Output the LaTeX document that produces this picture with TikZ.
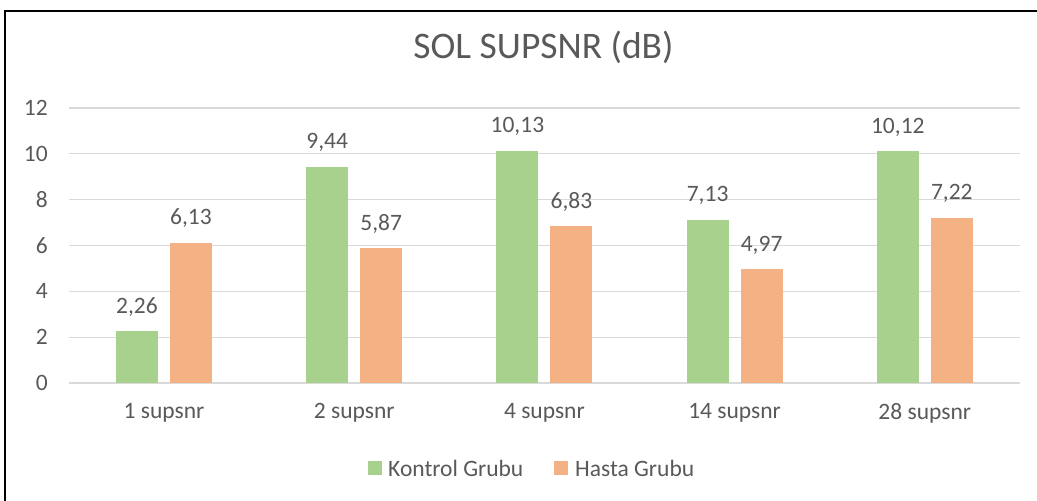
\documentclass[tikz,border=0pt]{standalone}
\usepackage{fontspec}
\setmainfont{Carlito}
\definecolor{txt}{HTML}{595959}
\definecolor{grid}{HTML}{D9D9D9}
\definecolor{kontrol}{HTML}{A9D18E}
\definecolor{hasta}{HTML}{F4B183}
\begin{document}
\begin{tikzpicture}[x=1pt,y=-1pt,
  lbl/.style={text=txt,font=\fontsize{23.5}{27}\selectfont,inner sep=0pt},
  val/.style={lbl,anchor=base},
  gridline/.style={draw=grid,line width=1.3pt},
  kbar/.style={fill=kontrol,draw=none},
  hbar/.style={fill=hasta,draw=none}]
\useasboundingbox (0,0) rectangle (1037,501);
% chart frame (open on the right and bottom)
\draw[line width=2.4pt,black] (5,501) -- (5,11) -- (1037,11);
% title
\node[lbl,font=\fontsize{37.5}{42}\selectfont] (title) at (543.5,47) {SOL SUPSNR (dB)};
% value axis: 1 unit = 22.92 px, zero at y=383
\foreach \v in {0,2,...,12}{
  \pgfmathsetmacro{\yy}{383-22.92*\v}
  \draw[gridline] (69,\yy) -- (1020,\yy);
  \node[lbl,anchor=east] (tick\v) at (48,\yy) {\v};
}
% bars: category centres 164 + 190.2*i, bar width 42, gap 12
\foreach \i/\k/\h/\kl/\hl/\cat in {0/2.26/6.13/{2,26}/{6,13}/{1 supsnr},
                                  1/9.44/5.87/{9,44}/{5,87}/{2 supsnr},
                                  2/10.13/6.83/{10,13}/{6,83}/{4 supsnr},
                                  3/7.13/4.97/{7,13}/{4,97}/{14 supsnr},
                                  4/10.12/7.22/{10,12}/{7,22}/{28 supsnr}}{
  \pgfmathsetmacro{\cx}{164+190.2*\i}
  \pgfmathsetmacro{\ky}{383-22.92*\k}
  \pgfmathsetmacro{\hy}{383-22.92*\h}
  \fill[kbar] (\cx-48,383) rectangle (\cx-6,\ky);
  \fill[hbar] (\cx+6,383) rectangle (\cx+48,\hy);
  \node[val] (kv\i) at (\cx-27,\ky-18) {\kl};
  \node[val] (hv\i) at (\cx+27,\hy-18) {\hl};
  \node[lbl] (cat\i) at (\cx,413) {\cat};
}
% legend
\fill[kontrol] (368,461) rectangle (382,475);
\node[lbl,anchor=west] (legk) at (388,468) {Kontrol Grubu};
\fill[hasta] (554,461) rectangle (568,475);
\node[lbl,anchor=west] (legh) at (575,468) {Hasta Grubu};
\end{tikzpicture}
\end{document}
